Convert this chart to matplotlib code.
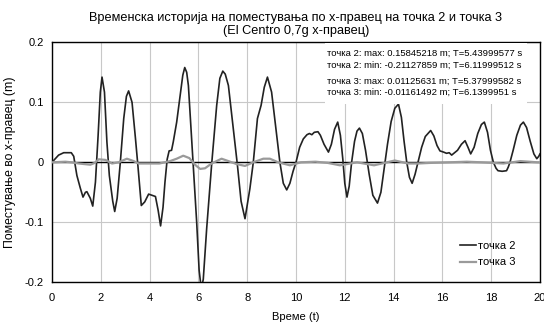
import matplotlib
matplotlib.use("Agg")
import matplotlib.pyplot as plt
from matplotlib.patches import Rectangle

plt.rcParams['font.family'] = ['Liberation Sans', 'DejaVu Sans']

# точка 2 - време (s) и поместување (m)
t2 = [0, 0.27, 0.48, 0.79, 0.89, 1.02, 1.16, 1.27, 1.37, 1.43,
      1.57, 1.67, 1.78, 1.89, 1.98, 2.05, 2.15, 2.25, 2.35, 2.49,
      2.57, 2.67, 2.8, 2.94, 3.05, 3.14, 3.28, 3.42, 3.53, 3.66,
      3.8, 3.96, 4.1, 4.24, 4.35, 4.45, 4.55, 4.63, 4.72, 4.8,
      4.9, 4.97, 5.11, 5.27, 5.36, 5.44, 5.52, 5.59, 5.72, 5.79,
      5.93, 6.03, 6.12, 6.2, 6.34, 6.54, 6.75, 6.88, 7.0, 7.1,
      7.23, 7.43, 7.6, 7.75, 7.91, 8.11, 8.25, 8.42, 8.57, 8.7,
      8.83, 9.0, 9.21, 9.34, 9.48, 9.62, 9.75, 9.88, 10.0, 10.15,
      10.3, 10.45, 10.55, 10.65, 10.75, 10.9, 11.0, 11.15, 11.33, 11.45,
      11.58, 11.71, 11.82, 11.92, 12.0, 12.09, 12.18, 12.28, 12.4, 12.5,
      12.6, 12.72, 12.85, 13.0, 13.15, 13.34, 13.48, 13.6, 13.75, 13.9,
      14.05, 14.2, 14.32, 14.43, 14.54, 14.65, 14.76, 14.88, 15.0, 15.15,
      15.3, 15.52, 15.65, 15.78, 15.9, 16.05, 16.17, 16.28, 16.38, 16.5,
      16.62, 16.78, 16.93, 17.05, 17.16, 17.3, 17.45, 17.6, 17.72, 17.85,
      17.97, 18.09, 18.2, 18.28, 18.45, 18.63, 18.7, 18.77, 18.9, 19.05,
      19.2, 19.32, 19.45, 19.6, 19.75, 19.87, 19.95, 20.0]
d2 = [0, 0.012, 0.016, 0.016, 0.010, -0.022, -0.043, -0.058, -0.050, -0.049,
      -0.060, -0.073, -0.033, 0.045, 0.117, 0.142, 0.117, 0.034, -0.022, -0.065,
      -0.082, -0.060, 0.0, 0.073, 0.110, 0.119, 0.100, 0.040, -0.010, -0.072,
      -0.066, -0.053, -0.055, -0.057, -0.080, -0.106, -0.075, -0.033, 0.005, 0.019,
      0.020, 0.034, 0.067, 0.117, 0.145, 0.158, 0.150, 0.128, 0.040, -0.005,
      -0.100, -0.180, -0.211, -0.195, -0.110, -0.005, 0.095, 0.140, 0.152, 0.147,
      0.128, 0.056, -0.005, -0.065, -0.094, -0.044, 0.0, 0.073, 0.095, 0.125,
      0.142, 0.117, 0.045, 0.0, -0.035, -0.046, -0.035, -0.015, 0.0, 0.025,
      0.039, 0.046, 0.048, 0.046, 0.050, 0.051, 0.045, 0.030, 0.017, 0.030,
      0.055, 0.067, 0.045, 0.005, -0.035, -0.058, -0.040, 0.0, 0.035, 0.052,
      0.057, 0.048, 0.020, -0.020, -0.055, -0.068, -0.050, -0.015, 0.030, 0.068,
      0.090, 0.097, 0.075, 0.035, 0.0, -0.025, -0.035, -0.020, 0.0, 0.025,
      0.043, 0.053, 0.044, 0.028, 0.019, 0.017, 0.015, 0.016, 0.012, 0.016,
      0.020, 0.030, 0.036, 0.025, 0.014, 0.025, 0.048, 0.063, 0.067, 0.050,
      0.020, 0.0, -0.010, -0.014, -0.015, -0.014, -0.008, 0.0, 0.020, 0.045,
      0.062, 0.067, 0.058, 0.035, 0.014, 0.006, 0.010, 0.014]

# точка 3
t3 = [0, 0.55, 0.8, 1.1, 1.57, 1.75, 1.91, 2.19, 2.46, 2.73,
      3.07, 3.35, 3.55, 4.1, 4.4, 4.84, 5.11, 5.38, 5.63, 5.86,
      6.07, 6.27, 6.54, 6.95, 7.23, 7.57, 7.91, 8.25, 8.66, 8.93,
      9.27, 9.75, 10.2, 10.8, 11.3, 11.8, 12.5, 13.2, 14.05, 14.6,
      15.0, 15.5, 16.3, 17.0, 17.6, 18.5, 19.2, 19.9, 20.0]
d3 = [0, 0.001, 0.0, -0.002, -0.004, -0.001, 0.005, 0.004, -0.002, 0.0,
      0.006, 0.002, -0.002, -0.002, -0.002, 0.002, 0.006, 0.011, 0.007, -0.004,
      -0.011, -0.010, -0.002, 0.006, 0.002, -0.003, -0.006, 0.0, 0.006, 0.006,
      0.0, -0.005, 0.0, 0.001, -0.001, -0.005, 0.0, -0.005, 0.003, -0.002,
      -0.002, -0.001, 0.0, 0.001, 0.0, -0.002, 0.002, 0.0, 0.0]

notes = ["точка 2: max: 0.15845218 m; T=5.43999577 s",
         "точка 2: min: -0.21127859 m; T=6.11999512 s",
         "точка 3: max: 0.01125631 m; T=5.37999582 s",
         "точка 3: min: -0.01161492 m; T=6.1399951 s"]

fig = plt.figure(figsize=(5.44, 3.22), dpi=100)
ax = fig.add_axes([0.0956, 0.1233, 0.8970, 0.7453])

ax.plot(t2, d2, color='#222222', lw=1.2, label='точка 2', zorder=3)
ax.plot(t3, d3, color='#9a9a9a', lw=1.6, label='точка 3', zorder=3)
ax.axhline(0, color='black', lw=1.0, zorder=2)

ax.set_xlim(0, 20)
ax.set_ylim(-0.2, 0.2)
ax.set_xticks(range(0, 21, 2))
ax.set_yticks([-0.2, -0.1, 0, 0.1, 0.2])
ax.set_yticklabels(['-0.2', '-0.1', '0', '0.1', '0.2'])
ax.grid(True, color='#c8c8c8', lw=0.8)
ax.set_axisbelow(True)
ax.tick_params(length=0, labelsize=8)
ax.tick_params(axis='y', pad=6)
ax.tick_params(axis='x', pad=8)
for s in ax.spines.values():
    s.set_linewidth(1.0)
    s.set_color('black')

ax.set_xlabel('Време (t)', fontsize=8, labelpad=6)
ax.set_ylabel('Поместување во x-правец (m)', fontsize=8.8, labelpad=6)
ax.set_title('Временска историја на поместувања по x-правец на точка 2 и точка 3\n'
             '(El Centro 0,7g x-правец)', fontsize=9.2, pad=6, linespacing=1.15)

# бела кутија со екстремите
ax.add_patch(Rectangle((0.559, 0.743), 0.414, 0.256, transform=ax.transAxes,
                       facecolor='white', edgecolor='none', zorder=4))
for y, s in zip([0.955, 0.905, 0.839, 0.793], notes):
    ax.text(0.564, y, s, transform=ax.transAxes, fontsize=6.8,
            va='center', ha='left', zorder=5)

leg = ax.legend(loc='lower right', bbox_to_anchor=(0.97, 0.02), frameon=False,
                fontsize=8, handlelength=1.4, handletextpad=0.2, labelspacing=0.55)

fig.savefig('out.png', dpi=100)
